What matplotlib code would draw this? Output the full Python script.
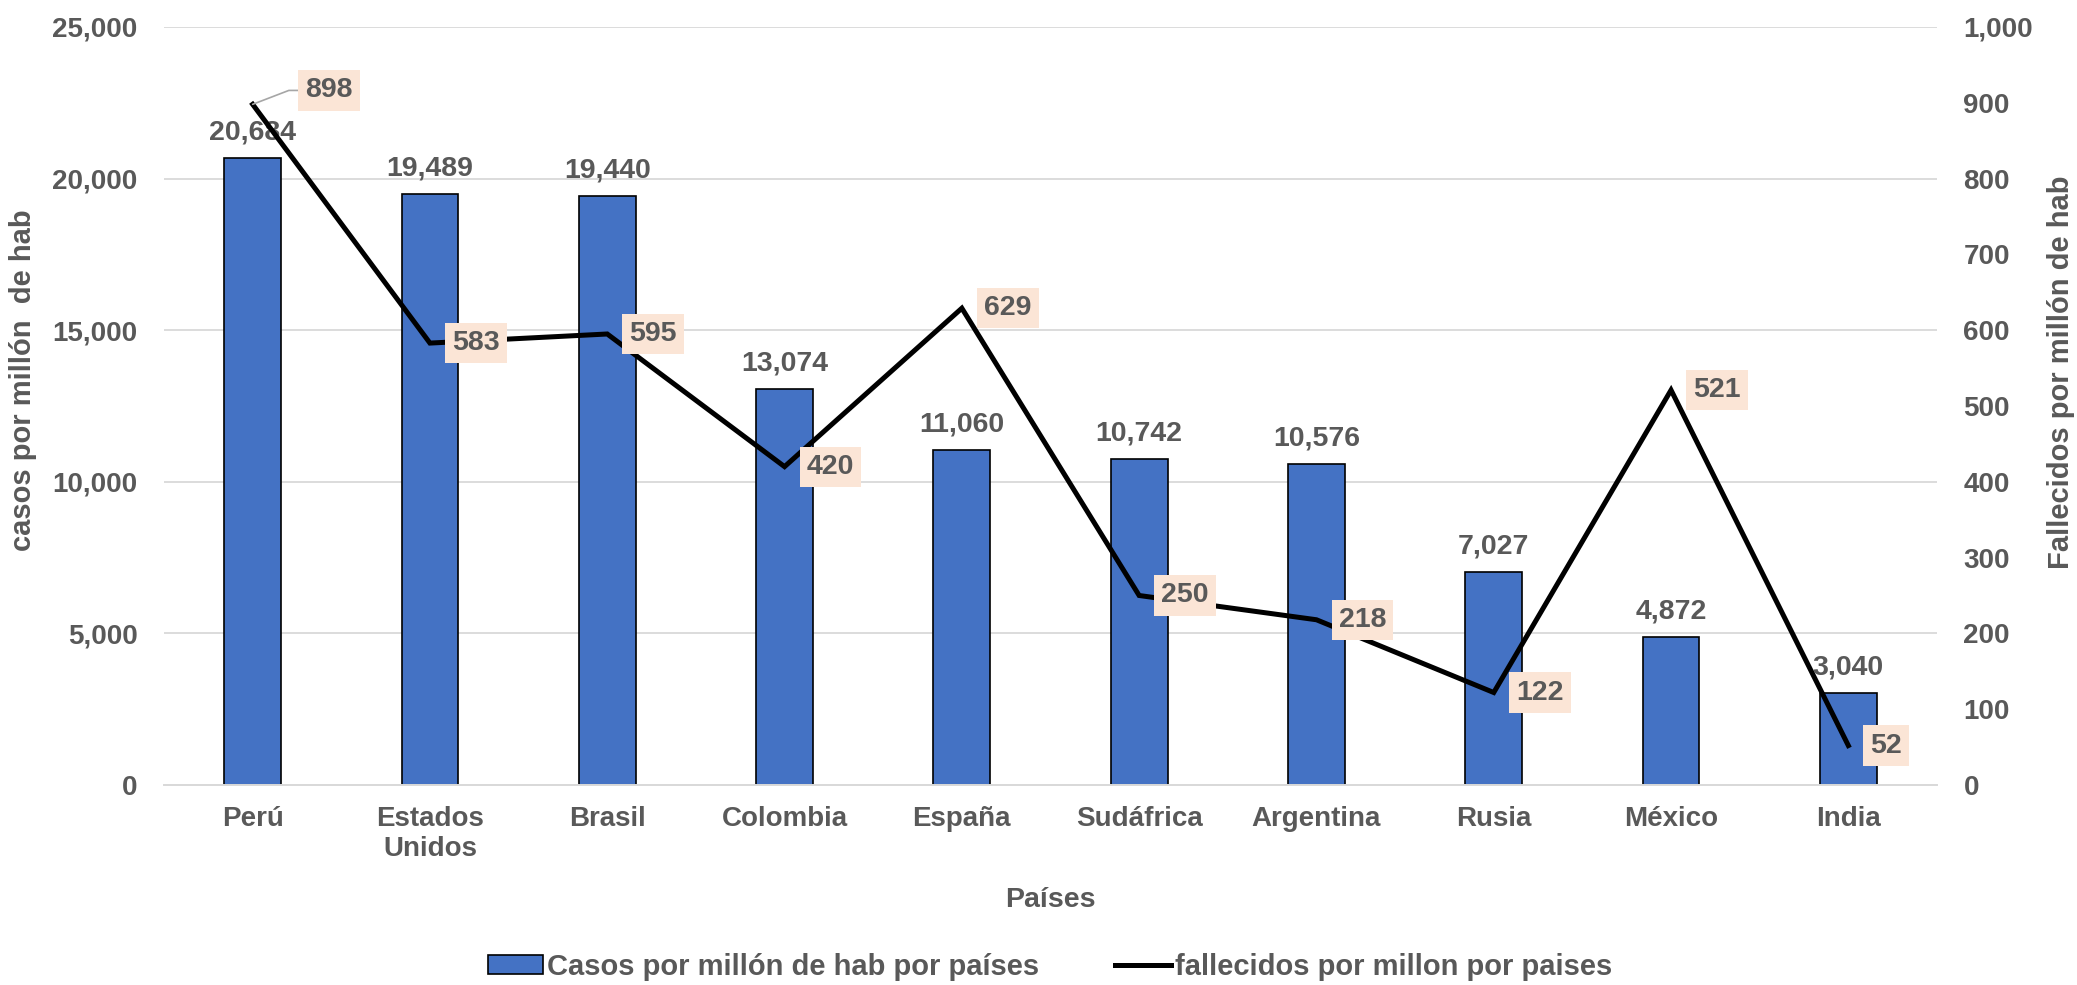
import numpy as np
import matplotlib
matplotlib.use('Agg')
import matplotlib.pyplot as plt
from matplotlib.ticker import FuncFormatter, MultipleLocator

# datos
paises = ['Perú', 'Estados\nUnidos', 'Brasil', 'Colombia', 'España',
          'Sudáfrica', 'Argentina', 'Rusia', 'México', 'India']
casos = [20684, 19489, 19440, 13074, 11060, 10742, 10576, 7027, 4872, 3040]
fallecidos = [898, 583, 595, 420, 629, 250, 218, 122, 521, 52]

gris = '#595959'
azul = '#4472C4'
caja = '#FBE5D6'

plt.rcParams['font.family'] = ['Liberation Sans', 'DejaVu Sans']
plt.rcParams['font.weight'] = 'bold'
plt.rcParams['font.size'] = 20

fig = plt.figure(figsize=(20.77, 9.85), dpi=100)
ax = fig.add_axes([164 / 2077, 1 - 785 / 985, (1937 - 164) / 2077, (785 - 27) / 985])
ax2 = ax.twinx()

x = np.arange(len(paises))
barras = ax.bar(x, casos, width=0.32, color=azul, edgecolor='black', linewidth=1.2,
                label='Casos por millón de hab por países', zorder=2)
linea, = ax2.plot(x, fallecidos, color='black', lw=3.6, zorder=3,
                  label='fallecidos por millon por paises', solid_joinstyle='miter')

ax.set_xlim(-0.5, len(paises) - 0.5)
ax.set_ylim(0, 25000)
ax2.set_ylim(0, 1000)
ax.yaxis.set_major_locator(MultipleLocator(5000))
ax2.yaxis.set_major_locator(MultipleLocator(100))
fmt = FuncFormatter(lambda v, p: f'{int(v):,}')
ax.yaxis.set_major_formatter(fmt)
ax2.yaxis.set_major_formatter(fmt)

ax.set_xticks(x)
ax.set_xticklabels(paises, linespacing=1.2)
ax.tick_params(axis='x', length=0, pad=15, colors=gris)
ax.tick_params(axis='y', length=0, pad=19, colors=gris)
ax2.tick_params(axis='y', length=0, pad=19, colors=gris)

ax.yaxis.grid(True, color='#D9D9D9', lw=1.3, zorder=0)
ax.set_axisbelow(True)
for a in (ax, ax2):
    for s in ['top', 'left', 'right']:
        a.spines[s].set_visible(False)
    a.spines['bottom'].set_color('#D9D9D9')
    a.spines['bottom'].set_linewidth(1.3)

# etiquetas de barras
for xi, v in zip(x, casos):
    ax.annotate(f'{v:,}', (xi, v), xytext=(0, 9), textcoords='offset points',
                ha='center', va='bottom', color=gris, fontsize=20.5, zorder=1)

# etiquetas de la linea
for xi, v in zip(x, fallecidos):
    if xi == 0:
        ax2.annotate(f'{v:,}', (xi, v), xytext=(38, 10), textcoords='offset points',
                     ha='left', va='center', color=gris, fontsize=20.5, zorder=5,
                     bbox=dict(boxstyle='square,pad=0.25', fc=caja, ec='none'),
                     arrowprops=dict(arrowstyle='-', color='#A6A6A6', lw=1.2,
                                     shrinkA=0, shrinkB=0,
                                     connectionstyle='angle,angleA=0,angleB=21,rad=0'))
    else:
        ax2.annotate(f'{v:,}', (xi, v), xytext=(16, 0), textcoords='offset points',
                     ha='left', va='center', color=gris, fontsize=20.5, zorder=5,
                     bbox=dict(boxstyle='square,pad=0.25', fc=caja, ec='none'))

ax.set_xlabel('Países', color=gris, fontsize=20.5, fontweight='bold', labelpad=18)
fig.text(23 / 2077, 1 - 380 / 985, 'casos por millón  de hab', rotation=90,
         ha='center', va='center', color=gris, fontsize=21)
fig.text(2061 / 2077, 1 - 372 / 985, 'Fallecidos por millón de hab', rotation=90,
         ha='center', va='center', color=gris, fontsize=21)

fig.legend([barras, linea], [barras.get_label(), linea.get_label()],
           loc='center', bbox_to_anchor=(1050 / 2077, 1 - 967 / 985), ncol=2,
           frameon=False, fontsize=21, labelcolor=gris, handlelength=1.9,
           handletextpad=0.15, columnspacing=2.6, handleheight=0.6)

fig.savefig('out.png', dpi=100)
